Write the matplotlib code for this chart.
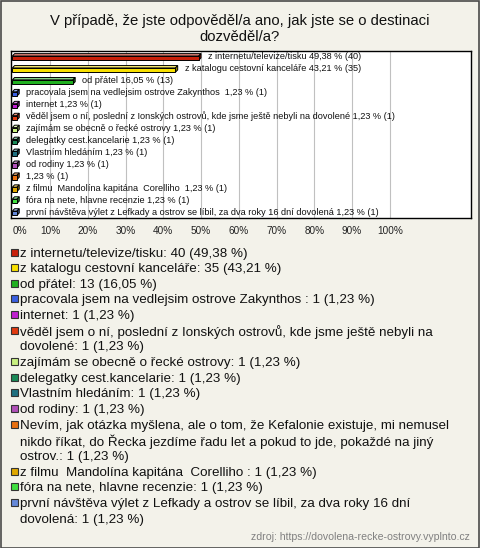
import textwrap

import matplotlib
matplotlib.use("Agg")
import matplotlib.pyplot as plt
from matplotlib.patches import Polygon, Rectangle
import matplotlib.colors as mcolors

plt.rcParams["font.family"] = ["Liberation Sans", "DejaVu Sans"]

TITLE = "V případě, že jste odpověděl/a ano, jak jste se o destinaci\ndozvěděl/a?"
SOURCE = "zdroj: https://dovolena-recke-ostrovy.vyplnto.cz"

names = [
    "z internetu/televize/tisku",
    "z katalogu cestovní kanceláře",
    "od přátel",
    "pracovala jsem na vedlejsim ostrove Zakynthos ",
    "internet",
    "věděl jsem o ní, poslední z Ionských ostrovů, kde jsme ještě nebyli na dovolené",
    "zajímám se obecně o řecké ostrovy",
    "delegatky cest.kancelarie",
    "Vlastním hledáním",
    "od rodiny",
    "Nevím, jak otázka myšlena, ale o tom, že Kefalonie existuje, mi nemusel "
    "nikdo říkat, do Řecka jezdíme řadu let a pokud to jde, pokaždé na jiný ostrov.",
    "z filmu  Mandolína kapitána  Corelliho ",
    "fóra na nete, hlavne recenzie",
    "první návštěva výlet z Lefkady a ostrov se líbil, za dva roky 16 dní dovolená",
]
counts = [40, 35, 13, 1, 1, 1, 1, 1, 1, 1, 1, 1, 1, 1]
percents = [49.38, 43.21, 16.05, 1.23, 1.23, 1.23, 1.23, 1.23, 1.23, 1.23, 1.23, 1.23, 1.23, 1.23]
colors = [
    "#c8200a", "#f8e000", "#20b020", "#3a5fe0", "#c020d0", "#e03a10", "#c8f080",
    "#1a8a58", "#1f7080", "#b050b8", "#e87010", "#e0a800", "#40e040", "#6488d8",
]
xticks = [0, 10, 20, 30, 40, 50, 60, 70, 80, 90, 100]

W, H = 480, 548
BG = "#f3f2ea"


def fmt(p):
    return f"{p:.2f}".replace(".", ",")


def shade(color, factor):
    r, g, b = mcolors.to_rgb(color)
    if factor > 1:
        return tuple(c + (1 - c) * (factor - 1) for c in (r, g, b))
    return tuple(c * factor for c in (r, g, b))


fig = plt.figure(figsize=(W / 100, H / 100), dpi=100, facecolor=BG)
fig.patches.append(Rectangle((0.5 / W, 0.5 / H), 1 - 1.5 / W, 1 - 1.5 / H,
                             transform=fig.transFigure, fill=False,
                             edgecolor="#4a4a4a", linewidth=1.2))

fig.text(0.5, 1 - 29 / H, TITLE, ha="center", va="center", fontsize=10.7,
         linespacing=1.12, color="#111111")

ax = fig.add_axes([11 / W, 1 - 218 / H, 460 / W, 167 / H])
ax.set_facecolor("white")
ax.set_xlim(-0.35, 121.5)
ax.set_ylim(len(names) - 0.5, -0.5)
for x in xticks[1:]:
    ax.axvline(x, color="#c0c0c0", linewidth=0.8, zorder=0)
for side in ax.spines.values():
    side.set_color("black")
    side.set_linewidth(1.0)
ax.set_yticks([])
ax.set_xticks(xticks)
ax.set_xticklabels([f"{t}%" for t in xticks], fontsize=7.2, color="#222222")
ax.get_xticklabels()[0].set_horizontalalignment("left")
ax.tick_params(axis="x", length=0, pad=6)

h = 0.36
dx, dy = 0.6, 0.2
for i, (name, cnt, pct, col) in enumerate(zip(names, counts, percents, colors)):
    y0, y1 = i - h / 2 + dy / 2, i + h / 2 + dy / 2
    ax.add_patch(Polygon([(0, y0), (dx, y0 - dy), (pct + dx, y0 - dy), (pct, y0)],
                         closed=True, facecolor=shade(col, 1.45),
                         edgecolor="black", linewidth=0.7, zorder=3))
    ax.add_patch(Polygon([(pct, y0), (pct + dx, y0 - dy), (pct + dx, y1 - dy), (pct, y1)],
                         closed=True, facecolor=shade(col, 0.6),
                         edgecolor="black", linewidth=0.7, zorder=3))
    ax.add_patch(Rectangle((0, y0), pct, y1 - y0, facecolor=col,
                           edgecolor="black", linewidth=0.7, zorder=4))
    label = f"{name} {fmt(pct)} % ({cnt})" if len(name) <= 100 else f"{fmt(pct)} % ({cnt})"
    ax.text(pct + dx + 1.8, i, label, va="center", ha="left", fontsize=6.6,
            color="#111111", zorder=5)

# legend below the plot, one text per wrapped line
line = 0
pitch = 15.65
for name, cnt, pct, col in zip(names, counts, percents, colors):
    rows = textwrap.wrap(f"{name}: {cnt} ({fmt(pct)} %)", width=71)
    y = 253 + line * pitch
    fig.patches.append(Rectangle((10.5 / W, 1 - (y + 2.5) / H), 7 / W, 7 / H,
                                 transform=fig.transFigure, facecolor=col,
                                 edgecolor="#333333", linewidth=0.8))
    for k, row in enumerate(rows):
        fig.text(20 / W, 1 - (y + 0.5 + k * pitch) / H, row, ha="left", va="center",
                 fontsize=9.6, color="#111111")
    line += len(rows)

fig.text(470 / W, 1 - 537 / H, SOURCE, ha="right", va="center", fontsize=7.6,
         color="#808080")

fig.savefig("out.png", dpi=100, facecolor=BG)
